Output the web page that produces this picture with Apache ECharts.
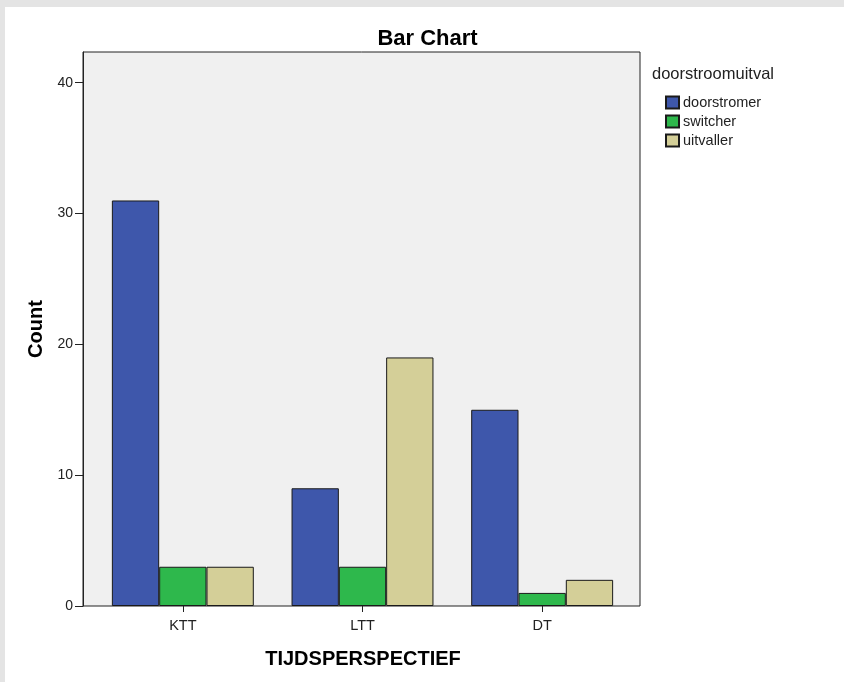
<!DOCTYPE html>
<html>
<head>
<meta charset="utf-8">
<script src="https://cdn.jsdelivr.net/npm/echarts@6/dist/echarts.min.js"></script>
<style>
html,body{margin:0;padding:0;background:#e4e4e4;width:844px;height:682px;overflow:hidden;}
#chart{position:absolute;left:5px;top:7px;width:839px;height:675px;background:#fff;}
</style>
</head>
<body>
<div id="chart"></div>
<script>
const categories = ['KTT', 'LTT', 'DT'];
const doorstromer = [31, 9, 15];
const switcher = [3, 3, 1];
const uitvaller = [3, 19, 2];
const yTicks = [0, 10, 20, 30, 40];

const FONT = 'Arial, "Liberation Sans", sans-serif';
const chart = echarts.init(document.getElementById('chart'));
const YMAX = 42.35;
const bstyle = c => ({ color: c, borderColor: '#1a1a1a', borderWidth: 1 });

chart.setOption({
  animation: false,
  textStyle: { fontFamily: FONT },
  title: [
    { text: 'Bar Chart', left: 417.5, top: 16, textAlign: 'center',
      textStyle: { fontFamily: FONT, fontSize: 22, fontWeight: 'bold', color: '#000' } },
    { text: 'doorstroomuitval', left: 642, top: 53.5,
      textStyle: { fontFamily: FONT, fontSize: 16.5, fontWeight: 'normal', color: '#222' } },
    { text: 'TIJDSPERSPECTIEF', left: 353, top: 637, textAlign: 'center',
      textStyle: { fontFamily: FONT, fontSize: 20, fontWeight: 'bold', color: '#000' } }
  ],
  legend: {
    orient: 'vertical', left: 660, top: 88, icon: 'rect', padding: 0,
    itemWidth: 13, itemHeight: 12, itemGap: 4,
    textStyle: { fontFamily: FONT, fontSize: 14.5, lineHeight: 13, color: '#222', padding: [0, 0, 0, -1] },
    data: ['doorstromer', 'switcher', 'uitvaller']
  },
  grid: [
    { left: 78, right: 204, top: 45, bottom: 76, show: true, backgroundColor: '#f0f0f0',
      borderColor: '#222', borderWidth: 1, containLabel: false },
    { left: 88, right: 212, top: 45, bottom: 76, containLabel: false }
  ],
  xAxis: [
    { gridIndex: 0, type: 'value', show: false, min: 0, max: 1 },
    { gridIndex: 1, type: 'category', data: categories,
      axisLine: { show: false },
      axisTick: { show: true, alignWithLabel: true, length: 6, lineStyle: { color: '#222' } },
      axisLabel: { fontFamily: FONT, fontSize: 14.5, color: '#222', margin: 12 } }
  ],
  yAxis: [
    { gridIndex: 0, type: 'value', min: 0, max: YMAX,
      name: 'Count', nameLocation: 'middle', nameGap: 36.5, nameRotate: 90,
      nameTextStyle: { fontFamily: FONT, fontSize: 20, fontWeight: 'bold', color: '#000' },
      splitLine: { show: false },
      axisLine: { show: true, lineStyle: { color: '#222' } },
      axisTick: { show: true, length: 8, customValues: yTicks, lineStyle: { color: '#222' } },
      axisLabel: { fontFamily: FONT, fontSize: 14, color: '#222', margin: 10, customValues: yTicks } },
    { gridIndex: 1, type: 'value', min: 0, max: YMAX, show: false, splitLine: { show: false } }
  ],
  series: [
    { name: 'doorstromer', type: 'bar', xAxisIndex: 1, yAxisIndex: 1, data: doorstromer,
      itemStyle: bstyle('#3e57ab'), barGap: '0%', barCategoryGap: '21%' },
    { name: 'switcher', type: 'bar', xAxisIndex: 1, yAxisIndex: 1, data: switcher,
      itemStyle: bstyle('#2eb84c'), barGap: '0%', barCategoryGap: '21%' },
    { name: 'uitvaller', type: 'bar', xAxisIndex: 1, yAxisIndex: 1, data: uitvaller,
      itemStyle: bstyle('#d4cf98'), barGap: '0%', barCategoryGap: '21%' }
  ]
});
</script>
</body>
</html>
